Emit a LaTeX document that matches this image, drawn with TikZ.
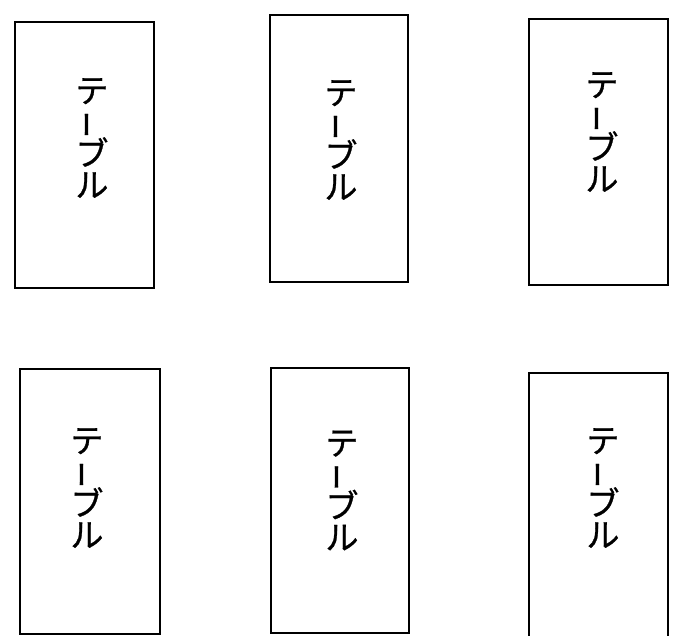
\documentclass[tikz,border=0pt]{standalone}
\usepackage{fontspec}
\usepackage{graphicx}
\newfontfamily\cjk[FakeBold=0.8]{Noto Sans CJK JP}
\newcommand{\vbar}{\raisebox{2.5pt}[23pt][3pt]{\rotatebox[origin=c]{90}{\scalebox{0.8}[1]{ー}}}}
\newcommand{\tabletext}{テ\\\vbar\\ブ\\ル}
\begin{document}
\begin{tikzpicture}[x=1pt,y=-1pt,
  tablebox/.style={draw=black, line width=2.6pt, fill=white, rectangle, inner sep=0pt, minimum width=139pt},
  tablelabel/.style={inner sep=0pt, align=center, font=\cjk\fontsize{33}{31.5}\selectfont}]
\useasboundingbox (0,0) rectangle (675,636);
\fill[white] (0,0) rectangle (675,636);
\node[tablebox, minimum height=266pt] (t1) at (84.5,155) {};
\node[tablebox, minimum width=138pt, minimum height=267pt] (t2) at (339,148.5) {};
\node[tablebox, minimum height=266pt] (t3) at (598.5,152) {};
\node[tablebox, minimum width=140pt, minimum height=265pt] (t4) at (90,501.5) {};
\node[tablebox, minimum width=138pt, minimum height=265pt] (t5) at (340,500.5) {};
\node[tablebox, minimum height=272pt] (t6) at (598.5,509) {};
\node[tablelabel] (l1) at (92,138) {\tabletext};
\node[tablelabel] (l2) at (341,140) {\tabletext};
\node[tablelabel] (l3) at (602,132) {\tabletext};
\node[tablelabel] (l4) at (87,488) {\tabletext};
\node[tablelabel] (l5) at (342,490.5) {\tabletext};
\node[tablelabel] (l6) at (603,488) {\tabletext};
\end{tikzpicture}
\end{document}
